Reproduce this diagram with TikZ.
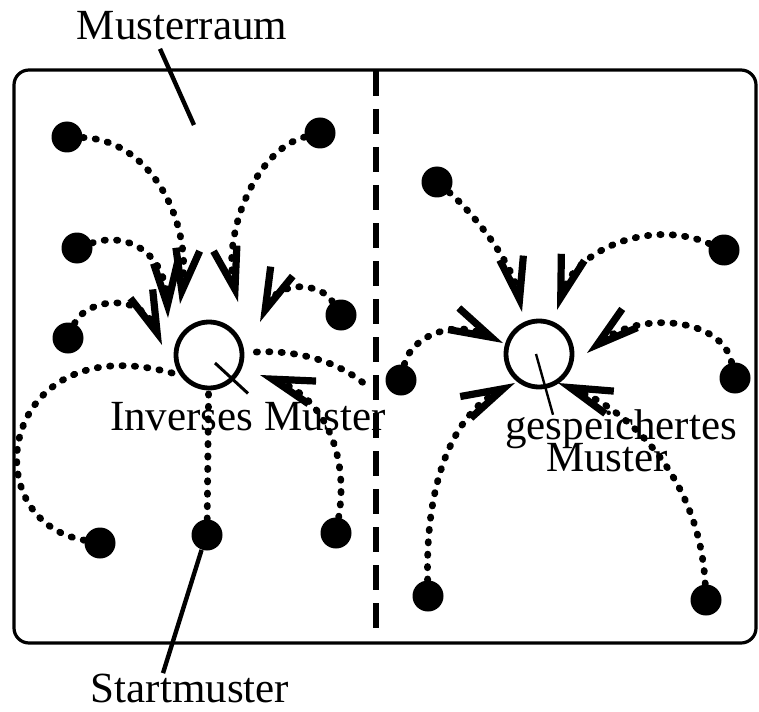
\documentclass[tikz,border=0pt]{standalone}
\usepackage{fontspec}
\setmainfont{Liberation Serif}
\usetikzlibrary{arrows.meta}
\begin{document}
\begin{tikzpicture}[x=0.5pt,y=-0.5pt,
  dot/.style={circle,fill=black,inner sep=0pt,minimum size=15.5pt},
  attr/.style={circle,draw=black,line width=2.4pt,inner sep=0pt,minimum size=33pt},
  traj/.style={line width=3.4pt,line cap=round,dash pattern=on 0.6pt off 5.6pt},
  flow/.style={traj,-{Straight Barb[length=21pt,width=12pt,line width=3.6pt]}},
  lbl/.style={inner sep=0pt,font=\fontsize{21.5}{22}\selectfont,anchor=base},
  lead/.style={line width=2.2pt},
  thinlead/.style={line width=1.2pt},
  frame/.style={line width=1.6pt,rounded corners=7.5pt},
  dashline/.style={line width=3.2pt,dash pattern=on 12.5pt off 6.5pt}]
\useasboundingbox (0,0) rectangle (759,711);

% frame
\draw[frame] (14,70) rectangle (756,643);

% attractors
\node[attr] (lc) at (209,355) {};
\node[attr] (rc) at (539,354) {};

% start patterns (left)
\node[dot] (A) at (67,137) {};
\node[dot] (B) at (320,133) {};
\node[dot] (C) at (77,248) {};
\node[dot] (D) at (68,338) {};
\node[dot] (E) at (341,315) {};
\node[dot] (F) at (100,543) {};
\node[dot] (G) at (207,535) {};
\node[dot] (H) at (336,533) {};
% start patterns (right)
\node[dot] (I) at (437,182) {};
\node[dot] (J) at (724,250) {};
\node[dot] (K) at (401,380) {};
\node[dot] (L) at (735,378) {};
\node[dot] (M) at (428,596) {};
\node[dot] (N) at (706,600) {};

% arrow tips
\coordinate (tA) at (180,304);
\coordinate (tB) at (238,302);
\coordinate (tC) at (168,318);
\coordinate (tD) at (162,345);
\coordinate (tE) at (260,322);
\coordinate (tH) at (260,375);
\coordinate (tI) at (522,312);
\coordinate (tJ) at (557,310);
\coordinate (tK) at (503,343);
\coordinate (tL) at (587,353);
\coordinate (tM) at (515,383);
\coordinate (tN) at (558,383);
\coordinate (kx) at (367,386);

% trajectories left
\draw[flow] (A) .. controls (150,140) and (192,220) .. (tA);
\draw[flow] (B) .. controls (255,150) and (222,235) .. (tB);
\draw[flow] (C) .. controls (125,232) and (165,250) .. (tC);
\draw[flow] (D) .. controls (85,300) and (140,290) .. (tD);
\draw[flow] (E) .. controls (320,282) and (278,280) .. (tE);
\draw[flow] (H) .. controls (350,450) and (320,395) .. (tH);
\draw[traj] (F) .. controls (-30,520) and (0,320) .. (lc.215);
\draw[traj] (G) -- (lc);
\draw[traj,shorten <=6pt] (lc) .. controls (290,350) and (335,358) .. (kx);

% trajectories right
\draw[flow] (I) .. controls (470,210) and (512,260) .. (tI);
\draw[flow] (J) .. controls (650,218) and (575,250) .. (tJ);
\draw[flow] (K) .. controls (410,338) and (452,318) .. (tK);
\draw[flow] (L) .. controls (722,318) and (640,310) .. (tL);
\draw[flow] (M) .. controls (425,470) and (460,410) .. (tM);
\draw[flow] (N) .. controls (700,480) and (630,410) .. (tN);

% labels
\node[lbl] (mr) at (182,40) {Musterraum};
\node[lbl] (sm) at (190,702) {Startmuster};
\node[lbl] (im) at (248,430) {Inverses Muster};
\node[lbl] (gs) at (621,439) {gespeichertes};
\node[lbl] (gm) at (607,471) {Muster};

% leader lines
\coordinate (mrp) at (194,125);
\draw[lead] ([xshift=-11pt,yshift=-4pt]mr.south) -- (mrp);
\draw[lead] (G.250) -- ([xshift=-13.5pt]sm.north);
\draw[thinlead,line width=1.5pt] ([xshift=3pt,yshift=-4pt]lc.center) -- ([yshift=4pt]im.north);
\draw[thinlead] ([xshift=-1.5pt]rc.center) -- ([xshift=-34pt,yshift=-3pt]gs.north);

% separator
\draw[dashline] (376,71) -- (376,634);
\end{tikzpicture}
\end{document}
